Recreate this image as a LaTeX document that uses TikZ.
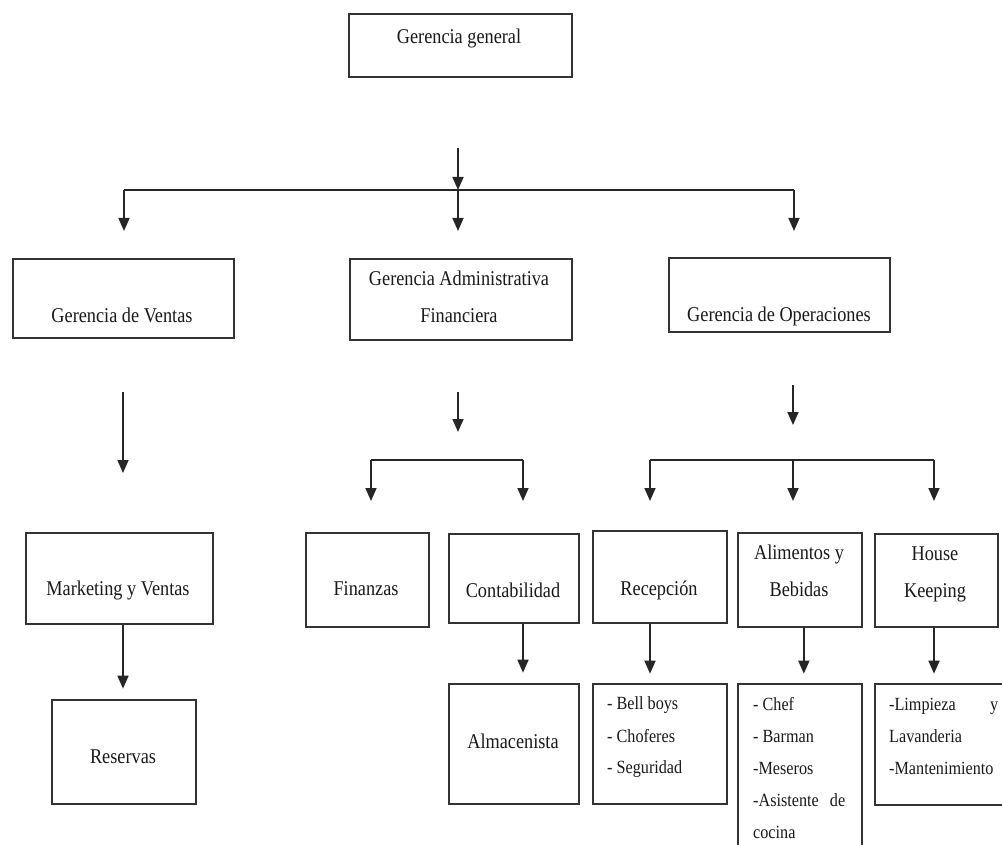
\documentclass[tikz,border=0pt]{standalone}
\usepackage{fontspec}
\setmainfont{Liberation Serif}[FakeStretch=0.87]
\usetikzlibrary{arrows.meta}
\begin{document}
\begin{tikzpicture}[x=1pt,y=-1pt,
  box/.style={draw=black!80, line width=1.7pt, anchor=north west, inner sep=0pt},
  txt/.style={inner sep=0pt, font=\fontsize{21}{25}\selectfont, text=black!90},
  lst/.style={inner sep=0pt, font=\fontsize{18.6}{22}\selectfont, text=black!90, anchor=base west},
  ln/.style={draw=black!85, line width=1.7pt},
  arr/.style={ln, -{Triangle[length=13pt,width=11pt]}}]
\clip (0,0) rectangle (1002,845);
% boxes
\node[box, minimum width=223pt, minimum height=63pt]  (gg) at (348,13) {};
\node[box, minimum width=221pt, minimum height=79pt]  (gv) at (12,258) {};
\node[box, minimum width=222pt, minimum height=81pt]  (ga) at (349,258) {};
\node[box, minimum width=221pt, minimum height=74pt]  (go) at (668,257) {};
\node[box, minimum width=187pt, minimum height=91pt]  (mk) at (25,532) {};
\node[box, minimum width=144pt, minimum height=104pt] (re) at (51,699) {};
\node[box, minimum width=123pt, minimum height=94pt]  (fi) at (305,532) {};
\node[box, minimum width=130pt, minimum height=89pt]  (co) at (448,533) {};
\node[box, minimum width=130pt, minimum height=120pt] (al) at (448,683) {};
\node[box, minimum width=134pt, minimum height=92pt]  (rc) at (592,530) {};
\node[box, minimum width=124pt, minimum height=94pt]  (ab) at (737,532) {};
\node[box, minimum width=123pt, minimum height=93pt]  (hk) at (874,533) {};
\node[box, minimum width=134pt, minimum height=120pt] (bb) at (592,683) {};
\node[box, minimum width=124pt, minimum height=187pt] (ch) at (737,683) {};
\node[box, minimum width=136pt, minimum height=121pt] (li) at (874,683) {};
% texts
\node[txt, anchor=base] (tgg) at (459,44) {Gerencia general};
\node[txt, anchor=base] (tgv) at (122,323) {Gerencia de Ventas};
\node[txt, anchor=base] (tga1) at (459,286) {Gerencia Administrativa};
\node[txt, anchor=base] (tga2) at (459,323) {Financiera};
\node[txt, anchor=base] (tgo) at (779,321) {Gerencia de Operaciones};
\node[txt, anchor=base] (tmk) at (118,595) {Marketing y Ventas};
\node[txt, anchor=base] (tre) at (123,763) {Reservas};
\node[txt, anchor=base] (tfi) at (366,595) {Finanzas};
\node[txt, anchor=base] (tco) at (513,597) {Contabilidad};
\node[txt, anchor=base] (tal) at (513,748) {Almacenista};
\node[txt, anchor=base] (trc) at (659,595) {Recepción};
\node[txt, anchor=base] (tab1) at (799,559) {Alimentos y};
\node[txt, anchor=base] (tab2) at (799,596) {Bebidas};
\node[txt, anchor=base] (thk1) at (935,560) {House};
\node[txt, anchor=base] (thk2) at (935,597) {Keeping};
\node[lst] (tbb1) at (607,709) {- Bell boys};
\node[lst] (tbb2) at (607,742) {- Choferes};
\node[lst] (tbb3) at (607,773) {- Seguridad};
\node[lst] (tch1) at (753,710) {- Chef};
\node[lst] (tch2) at (753,742) {- Barman};
\node[lst] (tch3) at (753,774) {-Meseros};
\node[lst] (tch4) at (753,806) {\hbox to 92pt{-Asistente\hfill de}};
\node[lst] (tch5) at (753,838) {cocina};
\node[lst] (tli1) at (889,710) {\hbox to 109pt{-Limpieza\hfill y}};
\node[lst] (tli2) at (889,742) {Lavanderia};
\node[lst] (tli3) at (889,774) {-Mantenimiento};
% connectors level 1
\coordinate (g0) at (458,148);
\coordinate (gj) at (458,190);
\coordinate (gl) at (124,190);
\coordinate (gr) at (794,190);
\draw[arr] (g0) -- (gj);
\draw[ln] (gl) -- (gr);
\draw[arr] (gl) -- ++(0,41);
\draw[arr] (gj) -- ++(0,41);
\draw[arr] (gr) -- ++(0,41);
% Ventas
\coordinate (v0) at (123,392);
\draw[arr] (v0) -- ++(0,81);
% Administrativa
\coordinate (a0) at (458,392);
\coordinate (aj) at (458,432);
\coordinate (al1) at (371,460);
\coordinate (ar1) at (523,460);
\draw[arr] (a0) -- (aj);
\draw[arr] (al1) -- ++(0,41);
\draw[arr] (ar1) -- ++(0,41);
\draw[ln] (al1) -- (ar1);
% Operaciones
\coordinate (o0) at (793,385);
\coordinate (oj) at (793,425);
\coordinate (ol) at (650,460);
\coordinate (om) at (793,460);
\coordinate (or) at (934,460);
\draw[arr] (o0) -- (oj);
\draw[ln] (ol) -- (or);
\draw[arr] (ol) -- ++(0,41);
\draw[arr] (om) -- ++(0,41);
\draw[arr] (or) -- ++(0,41);
% level 3 to 4
\draw[arr] (mk.south -| v0) -- ++(0,64);
\draw[arr] (co.south -| ar1) -- ++(0,49);
\draw[arr] (rc.south -| ol) -- ++(0,50);
\draw[arr] (ab.south) ++(4,0) coordinate (abs) (abs) -- ++(0,46);
\draw[arr] (hk.south -| or) -- ++(0,46);
\end{tikzpicture}
\end{document}
